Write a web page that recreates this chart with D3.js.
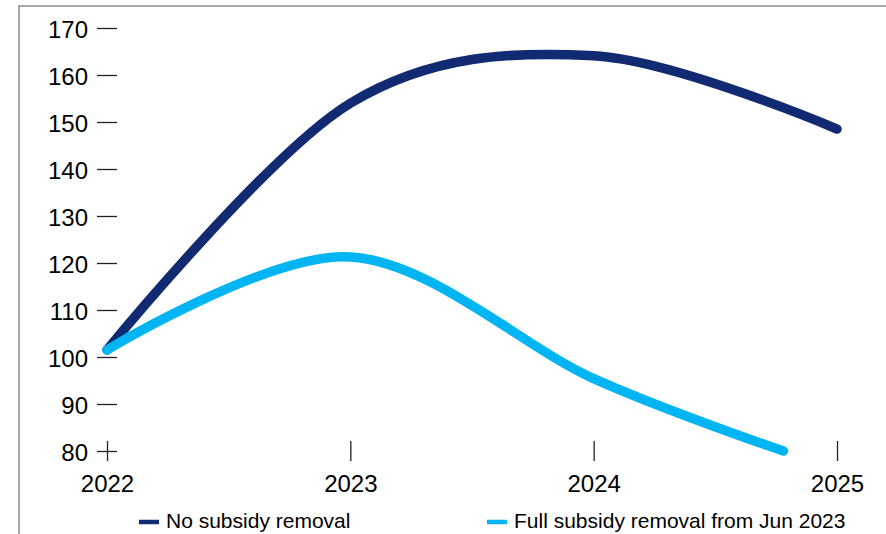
<!DOCTYPE html>
<html>
<head>
<meta charset="utf-8">
<script src="https://cdn.jsdelivr.net/npm/d3@7"></script>
<style>
  html, body { margin: 0; padding: 0; background: #fff; }
  svg { display: block; font-family: "Liberation Sans", Arial, sans-serif; }
</style>
</head>
<body>
<svg id="chart" width="886" height="534"></svg>
<script>
// Index values by year (fractional year for the last observation of the second series)
const yearsDark = [2022, 2023, 2024, 2025];
const noRemoval = [101.5, 154.0, 164.1, 148.5];

const yearsLight = [2022, 2023, 2024, 2024.78];
const fullRemoval = [101.5, 121.3, 95.4, 80.0];

const xTicks = [2022, 2023, 2024, 2025];
const yTicks = [80, 90, 100, 110, 120, 130, 140, 150, 160, 170];

const seriesNames = ["No subsidy removal", "Full subsidy removal from Jun 2023"];
const seriesColors = ["#112a72", "#00b5f1"];

const svg = d3.select("#chart");

// Outer frame (left and top edges visible)
svg.append("rect")
  .attr("x", 19).attr("y", 6)
  .attr("width", 900).attr("height", 560)
  .attr("fill", "none")
  .attr("stroke", "#8a8a8a")
  .attr("stroke-width", 1.5);

const x = d3.scaleLinear().domain([2022, 2025]).range([107, 837]);
const y = d3.scaleLinear().domain([80, 170]).range([451, 28]);

// Y axis: short dashes left of the plot with labels
const yAxis = d3.axisLeft(y)
  .tickValues(yTicks)
  .tickSize(20)
  .tickPadding(9)
  .tickFormat(d3.format("d"));

const gy = svg.append("g")
  .attr("transform", "translate(117,0)")
  .call(yAxis);
gy.select(".domain").remove();
gy.selectAll(".tick line").attr("stroke", "#222").attr("stroke-width", 1.3);
gy.selectAll(".tick text")
  .attr("font-size", 24)
  .attr("fill", "#000")
  .attr("font-family", "Liberation Sans, Arial, sans-serif")
  .attr("dy", "0.38em");

// X axis: vertical ticks on the baseline with year labels
const xAxis = d3.axisBottom(x)
  .tickValues(xTicks)
  .tickSize(20)
  .tickPadding(14)
  .tickFormat(d3.format("d"));

const gx = svg.append("g")
  .attr("transform", "translate(0,441)")
  .call(xAxis);
gx.select(".domain").remove();
gx.selectAll(".tick line").attr("stroke", "#222").attr("stroke-width", 1.3);
gx.selectAll(".tick text")
  .attr("font-size", 24)
  .attr("fill", "#000")
  .attr("font-family", "Liberation Sans, Arial, sans-serif");

// Smoothed lines through the yearly points
const line = d3.line()
  .x(d => x(d[0]))
  .y(d => y(d[1]))
  .curve(d3.curveCardinal.tension(0));

const series = [
  d3.zip(yearsDark, noRemoval),
  d3.zip(yearsLight, fullRemoval)
];

svg.append("g")
  .selectAll("path")
  .data(series)
  .join("path")
  .attr("d", line)
  .attr("fill", "none")
  .attr("stroke", (d, i) => seriesColors[i])
  .attr("stroke-width", 9.5)
  .attr("stroke-linecap", "round")
  .attr("stroke-linejoin", "round");

// Legend
const legendX = [139, 487];
const legend = svg.append("g")
  .selectAll("g")
  .data(seriesNames)
  .join("g")
  .attr("transform", (d, i) => `translate(${legendX[i]},522)`);

legend.append("line")
  .attr("x1", 0).attr("x2", 20)
  .attr("y1", 0).attr("y2", 0)
  .attr("stroke", (d, i) => seriesColors[i])
  .attr("stroke-width", 4.5);

legend.append("text")
  .attr("x", 27)
  .attr("y", 6)
  .attr("font-size", 21)
  .attr("fill", "#000")
  .text(d => d);
</script>
</body>
</html>
